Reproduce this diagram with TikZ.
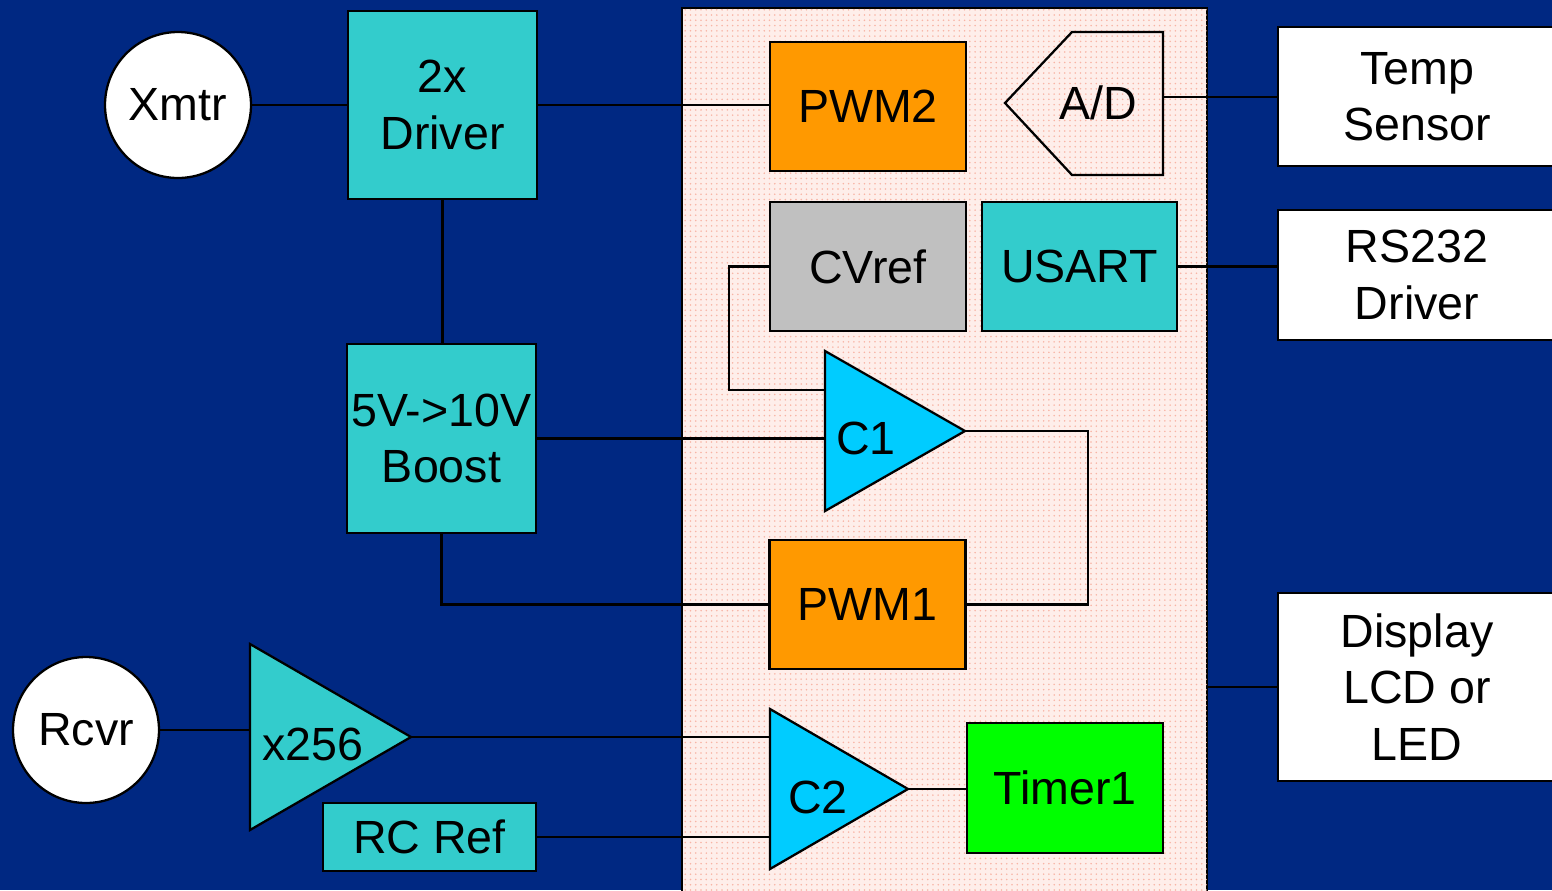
\documentclass[tikz,border=0pt]{standalone}
\usepackage{fontspec}
\setmainfont{Liberation Sans}
\usetikzlibrary{calc,patterns}
\definecolor{slidenavy}{RGB}{0,40,130}
\definecolor{blockteal}{RGB}{51,204,204}
\definecolor{pwmorange}{RGB}{255,153,0}
\definecolor{refgray}{RGB}{192,192,192}
\definecolor{compcyan}{RGB}{0,204,255}
\definecolor{timergreen}{RGB}{0,255,0}
\definecolor{chippink}{RGB}{254,238,234}
\definecolor{chipdot}{RGB}{248,180,165}
\tikzset{lbl/.style={font=\fontsize{26.5}{32}\selectfont,align=center,inner sep=0pt},
blk/.style={lbl,draw,line width=1.3pt},
teal/.style={blk,fill=blockteal,minimum width=3.78cm,minimum height=3.76cm},
unit/.style={blk,minimum width=3.92cm,minimum height=2.58cm},
ext/.style={blk,fill=white,minimum width=5.56cm},
io/.style={blk,circle,fill=white,minimum size=2.92cm},
amp/.style={draw,line width=1.3pt,line join=miter},
wire/.style={line width=1.3pt}}
\begin{document}
\begin{tikzpicture}[x=0.02cm,y=-0.02cm]
\useasboundingbox (0,0) rectangle (1552,890);
\fill[slidenavy] (0,0) rectangle (1552,890);
% microcontroller
\node[draw,line width=1.3pt,fill=chippink,postaction={pattern=dots,pattern color=chipdot},minimum width=10.5cm,minimum height=17.84cm] (mcu) at (944.5,454) {};
% outside blocks
\node[io] (xmtr) at (178,105) {Xmtr};
\node[io] (rcvr) at (86,730) {Rcvr};
\node[teal] (driver) at (442.5,105) {2x\\Driver};
\node[teal,minimum height=3.78cm] (boost) at (441.5,438.5) {5V->10V\\Boost};
\node[blk,fill=blockteal,minimum width=4.26cm,minimum height=1.36cm] (rcref) at (429.5,837) {RC Ref};
\node[ext,minimum height=2.78cm] (temp) at (1417,96.5) {Temp\\Sensor};
\node[ext,minimum height=2.6cm] (rs232) at (1417,275) {RS232\\Driver};
\node[ext,minimum height=3.76cm] (display) at (1417,687) {Display\\LCD or\\LED};
% on-chip blocks
\node[unit,fill=pwmorange] (pwm2) at (868,106.5) {PWM2};
\node[unit,fill=refgray] (cvref) at (868,266.5) {CVref};
\node[unit,fill=blockteal,minimum width=3.9cm] (usart) at (1079.5,266.5) {USART};
\node[unit,fill=pwmorange] (pwm1) at (867.5,604.5) {PWM1};
\node[unit,fill=timergreen,minimum height=2.6cm] (timer) at (1065,788) {Timer1};
% A/D and amplifiers
\draw[amp] (1005,103) -- (1072,32) -- (1163,32) -- (1163,175) -- (1072,175) -- cycle;
\coordinate (adcout) at (1163,97);
\node[lbl] (adc) at (1098,103) {A/D};
\draw[amp,fill=compcyan] (825,351) -- (965,431) coordinate (c1out) -- (825,511) -- cycle;
\coordinate (c1base) at (825,431);
\coordinate (c1ref) at (825,390);
\node[lbl] (c1) at (866,438) {C1};
\draw[amp,fill=blockteal] (250,644) -- (411,737) coordinate (gainout) -- (250,830) -- cycle;
\coordinate (gainbase) at (250,737);
\node[lbl] (gain) at (313,744) {x256};
\draw[amp,fill=compcyan] (770,709) -- (908,789) coordinate (c2out) -- (770,869) -- cycle;
\coordinate (c2base) at (770,789);
\node[lbl] (c2) at (818,797) {C2};
% wiring
\draw[wire] (xmtr.east)--(xmtr.east-|driver.west);
\draw[wire] (driver.south)--(driver.south|-boost.north);
\draw[wire] (driver.east)--(driver.east-|pwm2.west);
\draw[wire] (adcout)--(adcout-|temp.west);
\draw[wire] (usart.east)--(usart.east-|rs232.west);
\draw[wire] (cvref.west)--++(-40,0)|-(c1ref);
\draw[wire] (boost.east)--(boost.east-|c1base);
\draw[wire] (c1out)--++(123,0)|-(pwm1.east);
\draw[wire] (boost.south)|-(pwm1.west);
\draw[wire] (mcu.east|-display.west)--(display.west);
\draw[wire] (rcvr.east)--(rcvr.east-|gainbase);
\draw[wire] (gainout)--(gainout-|c2base);
\draw[wire] (rcref.east)--(rcref.east-|c2base);
\draw[wire] (c2out)--(c2out-|timer.west);
\end{tikzpicture}
\end{document}
